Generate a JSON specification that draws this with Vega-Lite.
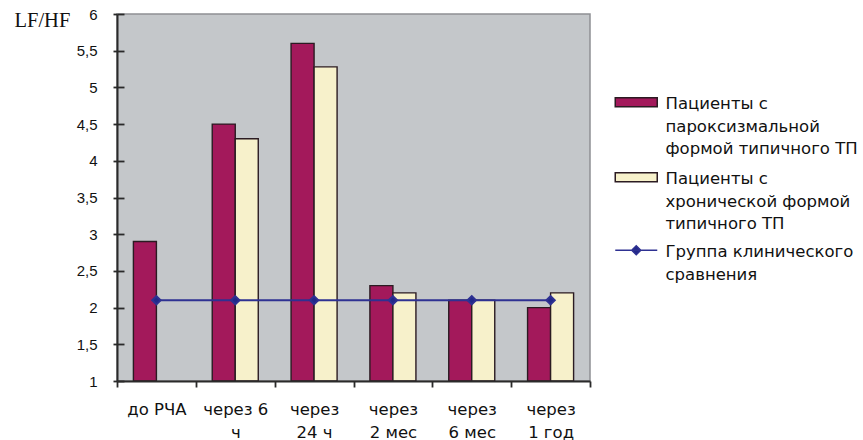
{
  "$schema": "https://vega.github.io/schema/vega-lite/v6.json",
  "width": 473,
  "height": 367,
  "autosize": "none",
  "padding": {"left": 117, "top": 14, "right": 273, "bottom": 59},
  "background": "#ffffff",
  "config": {
    "font": "DejaVu Sans",
    "view": {"fill": "#C4C7CA", "stroke": "#8E9094", "strokeWidth": 1.5},
    "style": {"guide-label": {"lineHeight": 22.5, "dy": -6}}
  },
  "datasets": {
    "hrv": [
      {"period": "до РЧА", "group": "Пациенты с пароксизмальной формой типичного ТП", "value": 2.9},
      {"period": "через 6 ч", "group": "Пациенты с пароксизмальной формой типичного ТП", "value": 4.5},
      {"period": "через 6 ч", "group": "Пациенты с хронической формой типичного ТП", "value": 4.3},
      {"period": "через 24 ч", "group": "Пациенты с пароксизмальной формой типичного ТП", "value": 5.6},
      {"period": "через 24 ч", "group": "Пациенты с хронической формой типичного ТП", "value": 5.28},
      {"period": "через 2 мес", "group": "Пациенты с пароксизмальной формой типичного ТП", "value": 2.3},
      {"period": "через 2 мес", "group": "Пациенты с хронической формой типичного ТП", "value": 2.2},
      {"period": "через 6 мес", "group": "Пациенты с пароксизмальной формой типичного ТП", "value": 2.1},
      {"period": "через 6 мес", "group": "Пациенты с хронической формой типичного ТП", "value": 2.1},
      {"period": "через 1 год", "group": "Пациенты с пароксизмальной формой типичного ТП", "value": 2.0},
      {"period": "через 1 год", "group": "Пациенты с хронической формой типичного ТП", "value": 2.2}
    ],
    "control": [
      {"period": "до РЧА", "value": 2.1},
      {"period": "через 6 ч", "value": 2.1},
      {"period": "через 24 ч", "value": 2.1},
      {"period": "через 2 мес", "value": 2.1},
      {"period": "через 6 мес", "value": 2.1},
      {"period": "через 1 год", "value": 2.1}
    ]
  },
  "resolve": {"axis": {"y": "independent"}},
  "layer": [
    {
      "data": {"name": "hrv"},
      "mark": {"type": "bar", "stroke": "#2B1B22", "strokeWidth": 1.4},
      "encoding": {
        "x": {
          "field": "period",
          "type": "nominal",
          "sort": ["до РЧА", "через 6 ч", "через 24 ч", "через 2 мес", "через 6 мес", "через 1 год"],
          "scale": {"paddingInner": 0, "paddingOuter": 0},
          "axis": {
            "title": null,
            "zindex": 1,
            "labelAngle": 0,
            "labelFont": "DejaVu Sans",
            "labelFontSize": 16.5,
            "labelColor": "#111111",
            "labelPadding": 20,
            "labelLineHeight": 23,
            "labelExpr": "!datum.label ? '' : datum.label == 'до РЧА' ? datum.label : datum.label == 'через 6 ч' ? ['через 6', 'ч'] : ['через', slice(datum.label, 6)]",
            "tickBand": "extent",
            "tickSize": 6,
            "tickColor": "#2A2A2A",
            "tickWidth": 1.8,
            "domain": true,
            "domainColor": "#2A2A2A",
            "domainWidth": 2
          }
        },
        "xOffset": {
          "field": "group",
          "type": "nominal",
          "scale": {"domain": ["Пациенты с пароксизмальной формой типичного ТП", "Пациенты с хронической формой типичного ТП"], "paddingInner": 0, "paddingOuter": 0.713}
        },
        "y": {
          "field": "value",
          "type": "quantitative",
          "scale": {"domain": [1, 6], "nice": false, "zero": false},
          "axis": {
            "zindex": 1,
            "values": [1, 1.5, 2, 2.5, 3, 3.5, 4, 4.5, 5, 5.5, 6],
            "format": "~g",
            "labelExpr": "replace(datum.label, '.', ',')",
            "labelFont": "Liberation Sans",
            "labelFontSize": 15,
            "labelColor": "#111111",
            "labelPadding": 16,
            "labelOffset": 6,
            "tickSize": 4,
            "tickColor": "#2A2A2A",
            "tickWidth": 1.8,
            "domain": true,
            "domainColor": "#2A2A2A",
            "domainWidth": 2,
            "grid": false,
            "title": "LF/HF",
            "titleFont": "Liberation Serif",
            "titleFontSize": 20.5,
            "titleFontWeight": "normal",
            "titleColor": "#111111",
            "titleAngle": 0,
            "titleAlign": "left",
            "titleBaseline": "middle",
            "titleX": -103,
            "titleY": 6.5
          }
        },
        "y2": {"datum": 1},
        "fill": {
          "field": "group",
          "type": "nominal",
          "scale": {
            "domain": ["Пациенты с пароксизмальной формой типичного ТП", "Пациенты с хронической формой типичного ТП"],
            "range": ["#A3195B", "#F7F1CB"]
          },
          "legend": {
            "title": null,
            "orient": "none",
            "legendX": 511,
            "legendY": 80,
            "padding": 0,
            "symbolType": "M-4.2,-0.9H4.2V0.9H-4.2Z",
            "symbolSize": 100,
            "symbolStrokeColor": "#2B1B22",
            "symbolStrokeWidth": 1.5,
            "labelFont": "DejaVu Sans",
            "labelFontSize": 16.5,
            "labelColor": "#111111",
            "labelOffset": 21,
            "labelLimit": 400,
            "labelBaseline": "top",
            "rowPadding": 11,
            "labelExpr": "indexof(datum.label, 'пароксизмальной') >= 0 ? ['Пациенты с', 'пароксизмальной', 'формой типичного ТП'] : ['Пациенты с', 'хронической формой', 'типичного ТП']"
          }
        }
      }
    },
    {
      "data": {"name": "control"},
      "mark": {
        "type": "line",
        "strokeWidth": 2,
        "point": {"shape": "diamond", "size": 70, "filled": true, "fill": "#22288A", "stroke": "#22288A"}
      },
      "encoding": {
        "x": {
          "field": "period",
          "type": "nominal",
          "sort": ["до РЧА", "через 6 ч", "через 24 ч", "через 2 мес", "через 6 мес", "через 1 год"]
        },
        "y": {
          "field": "value",
          "type": "quantitative",
          "axis": {
            "orient": "left",
            "zindex": 1,
            "offset": -7,
            "tickSize": 7,
            "tickColor": "#2A2A2A",
            "tickWidth": 1.8,
            "values": [1, 1.5, 2, 2.5, 3, 3.5, 4, 4.5, 5, 5.5, 6],
            "labels": false,
            "domain": false,
            "grid": false,
            "title": null
          }
        },
        "stroke": {
          "datum": "Группа клинического сравнения",
          "type": "nominal",
          "scale": {"domain": ["Группа клинического сравнения"], "range": ["#2E3192"]},
          "legend": {
            "title": null,
            "orient": "none",
            "legendX": 511,
            "legendY": 228,
            "padding": 0,
            "symbolType": "M-4.2,0H4.2M0,-0.9L0.9,0L0,0.9L-0.9,0Z",
            "symbolSize": 100,
            "symbolStrokeColor": "#2E3192",
            "symbolFillColor": "#22288A",
            "symbolStrokeWidth": 1.5,
            "labelFont": "DejaVu Sans",
            "labelFontSize": 16.5,
            "labelColor": "#111111",
            "labelOffset": 21,
            "labelLimit": 400,
            "labelBaseline": "top",
            "labelExpr": "['Группа клинического', 'сравнения']"
          }
        }
      }
    }
  ]
}
